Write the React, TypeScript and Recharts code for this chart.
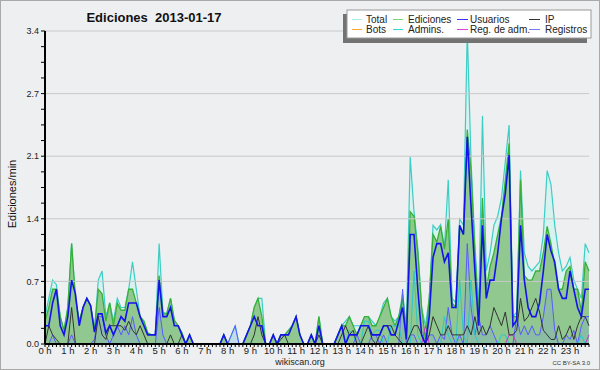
import React from "react";
import { ComposedChart, Area, Line, XAxis, YAxis, ReferenceLine } from "recharts";

// one value every 10 minutes (6 per hour), edits per minute
const hourLabels = [
  "0 h", "1 h", "2 h", "3 h", "4 h", "5 h", "6 h", "7 h", "8 h", "9 h", "10 h", "11 h",
  "12 h", "13 h", "14 h", "15 h", "16 h", "17 h", "18 h", "19 h", "20 h", "21 h", "22 h", "23 h",
];

const total = [
  0.3, 0.5, 0.7, 0.65, 0.3, 0.15, 0.4, 1.1, 0.5, 0.25, 0.4, 0.5,
  0.42, 0.15, 0.7, 0.8, 0.3, 0.45, 0.25, 0.5, 0.4, 0.4, 0.6, 0.9,
  0.6, 0.3, 0.25, 0.12, 0.1, 0.1, 1.1, 0.35, 0.33, 0.5, 0.26, 0.2,
  0.12, 0, 0.1, 0, 0, 0, 0, 0, 0, 0, 0, 0.1,
  0, 0.1, 0.2, 0, 0, 0.1, 0.2, 0.4, 0.5, 0.5, 0, 0,
  0.1, 0, 0.1, 0.1, 0.15, 0.2, 0.3, 0.1, 0, 0, 0.1, 0,
  0.3, 0, 0, 0, 0, 0.1, 0.2, 0.25, 0.3, 0.2, 0.2, 0.2,
  0.3, 0.3, 0.25, 0.2, 0.3, 0.45, 0.5, 0.3, 0.25, 0.3, 0.55, 0.2,
  2.05, 1.45, 1.05, 0.4, 0.2, 0.5, 1.3, 1.25, 1.31, 1.06, 1.8, 0.5,
  0.45, 1.37, 1.3, 3.43, 2.0, 1.1, 0.4, 2.5, 0.8, 1.0, 1.3, 1.4,
  1.6, 2.0, 2.4, 0.3, 0.35, 1.9, 1.0, 0.85, 0.8, 0.85, 0.9, 1.2,
  1.9, 1.75, 1.3, 1.0, 0.8, 0.85, 0.95, 0.7, 0.6, 0.5, 1.1, 1.0,
];

const ediciones = [
  0.25, 0.4, 0.6, 0.6, 0.3, 0.15, 0.4, 1.1, 0.5, 0.25, 0.4, 0.5,
  0.42, 0.15, 0.6, 0.55, 0.25, 0.45, 0.2, 0.45, 0.37, 0.37, 0.6, 0.6,
  0.45, 0.3, 0.25, 0.12, 0.1, 0.1, 0.75, 0.33, 0.33, 0.5, 0.26, 0.2,
  0.12, 0, 0.1, 0, 0, 0, 0, 0, 0, 0, 0, 0.1,
  0, 0, 0, 0, 0, 0.1, 0.2, 0.4, 0.5, 0.3, 0, 0,
  0.1, 0, 0.1, 0.1, 0.15, 0.2, 0.3, 0.1, 0, 0, 0.1, 0,
  0.3, 0, 0, 0, 0, 0.1, 0.2, 0.2, 0.3, 0.2, 0.1, 0.2,
  0.3, 0.3, 0.2, 0.2, 0.3, 0.4, 0.5, 0.3, 0.2, 0.3, 0.5, 0.1,
  1.45, 1.4, 1.0, 0.4, 0.05, 0.5, 1.2, 1.12, 1.29, 1.04, 1.37, 0.45,
  0.4, 1.29, 1.2, 2.35, 1.9, 1.0, 0.3, 1.6, 0.6, 0.85, 1.0, 1.2,
  1.4, 1.8, 2.2, 0.3, 0.3, 1.8, 0.75, 0.7, 0.7, 0.8, 0.8, 1.0,
  1.29, 1.1, 0.85, 0.6, 0.6, 0.8, 0.85, 0.6, 0.6, 0.35, 0.9, 0.8,
];

const usuarios = [
  0.2, 0.2, 0.45, 0.6, 0.2, 0.1, 0.3, 0.7, 0.55, 0.2, 0.4, 0.5,
  0.42, 0.13, 0.33, 0.33, 0.12, 0.2, 0.1, 0.2, 0.3, 0.25, 0.45, 0.45,
  0.45, 0.3, 0.2, 0.1, 0.1, 0.1, 0.7, 0.3, 0.3, 0.4, 0.2, 0.2,
  0.1, 0, 0.1, 0, 0, 0, 0, 0, 0, 0, 0, 0.1,
  0, 0, 0, 0, 0, 0.1, 0.2, 0.3, 0.2, 0.2, 0, 0,
  0.1, 0, 0.1, 0.1, 0.1, 0.2, 0.3, 0.1, 0, 0, 0.1, 0,
  0.2, 0, 0, 0, 0, 0.1, 0.2, 0, 0.1, 0.1, 0.1, 0.2,
  0.2, 0.2, 0.1, 0.1, 0.1, 0.2, 0.2, 0.1, 0.1, 0.25, 0.4, 0.05,
  1.2, 1.2, 0.6, 0.1, 0, 0.3, 0.95, 1.1, 1.1, 0.9, 1.0, 0.4,
  0.4, 1.3, 1.2, 2.27, 1.5, 0.8, 0.2, 1.3, 0.5, 0.7, 0.7, 1.0,
  1.38, 1.65, 2.07, 0.2, 0.26, 1.3, 0.7, 0.4, 0.3, 0.3, 0.45, 0.8,
  1.2, 1.02, 0.9, 0.6, 0.5, 0.5, 0.8, 0.6, 0.4, 0.3, 0.6, 0.6,
];

const ip = [
  0, 0.2, 0.1, 0.05, 0, 0, 0, 0.4, 0, 0, 0, 0,
  0, 0, 0.3, 0.1, 0.05, 0.2, 0.2, 0.2, 0.2, 0.15, 0.25, 0.15,
  0.1, 0.2, 0.1, 0, 0, 0, 0, 0, 0, 0.1, 0, 0,
  0.1, 0, 0, 0, 0, 0, 0, 0, 0, 0, 0, 0,
  0, 0, 0, 0, 0, 0, 0, 0.1, 0.3, 0.1, 0, 0,
  0, 0, 0.05, 0.1, 0, 0, 0, 0, 0, 0, 0, 0,
  0.1, 0, 0, 0, 0, 0, 0.1, 0.2, 0.1, 0.15, 0, 0,
  0.1, 0.2, 0.05, 0, 0.1, 0.2, 0.2, 0.2, 0.1, 0.05, 0, 0,
  0.1, 0.2, 0.2, 0.1, 0, 0.1, 0.3, 0.2, 0.1, 0.1, 0.2, 0.1,
  0.1, 0.1, 0.1, 0.2, 0.1, 0.3, 0.1, 0.2, 0.1, 0.2, 0.4, 0.3,
  0.2, 0.35, 0.1, 0.1, 0.15, 0.5, 0.25, 0.3, 0.4, 0.5, 0.35, 0.15,
  0.1, 0.05, 0.05, 0.2, 0.05, 0.1, 0.2, 0.05, 0.2, 0.3, 0.3, 0.2,
];

const registros = [
  0, 0, 0.1, 0, 0, 0, 0, 0.1, 0, 0, 0, 0,
  0, 0.05, 0.3, 0.3, 0.1, 0, 0.1, 0.2, 0.1, 0.2, 0.1, 0.3,
  0.1, 0, 0, 0, 0, 0, 0.4, 0.1, 0, 0, 0, 0,
  0, 0, 0, 0, 0, 0, 0, 0, 0, 0, 0, 0,
  0, 0.1, 0.2, 0, 0, 0, 0, 0, 0, 0, 0, 0,
  0, 0, 0, 0, 0, 0, 0, 0, 0, 0, 0, 0,
  0, 0, 0, 0, 0, 0, 0, 0, 0, 0, 0.1, 0,
  0, 0, 0.1, 0.1, 0, 0.1, 0, 0, 0, 0, 0.6, 0,
  0.1, 0.1, 0, 0, 0, 0.1, 0.1, 0, 0.1, 0.05, 0.4, 0.1,
  0, 0.1, 0, 1.1, 0.4, 0.1, 0.3, 0.1, 0.1, 0.2, 0.1, 0,
  0, 0, 0, 0, 0.3, 0.1, 0.2, 0.1, 0.2, 0.1, 0.1, 0.3,
  0.6, 0.6, 0.15, 0, 0, 0.1, 0.05, 0.15, 0, 0.2, 0.3, 0.3,
];

const admins = [
  0, 0, 0, 0, 0, 0, 0, 0, 0, 0, 0, 0,
  0, 0, 0, 0, 0, 0, 0, 0, 0, 0, 0, 0,
  0, 0, 0, 0, 0, 0, 0, 0, 0, 0, 0, 0,
  0, 0, 0, 0, 0, 0, 0, 0, 0, 0, 0, 0,
  0, 0, 0, 0, 0, 0, 0, 0, 0, 0, 0, 0,
  0, 0, 0, 0, 0, 0, 0, 0, 0, 0, 0, 0,
  0, 0, 0, 0, 0, 0, 0, 0, 0.15, 0.1, 0, 0,
  0.25, 0.25, 0.1, 0.15, 0.15, 0, 0, 0.2, 0.2, 0.2, 0, 0,
  0, 0.8, 0.1, 0, 0, 0, 0, 0, 0, 0.3, 0.1, 0,
  0, 0.7, 0.1, 0, 0.7, 0.1, 0, 0, 0, 0, 0, 0,
  0.1, 0.1, 0, 0, 0, 0, 0, 0, 0, 0, 0, 0,
  0, 0, 0, 0, 0, 0, 0, 0, 0, 0.1, 0, 0,
];

const regAdm = [
  0, 0, 0, 0, 0, 0, 0, 0, 0, 0, 0, 0,
  0, 0, 0, 0, 0, 0, 0, 0, 0, 0, 0, 0,
  0, 0, 0, 0, 0, 0, 0, 0, 0, 0, 0, 0,
  0, 0, 0, 0, 0, 0, 0, 0, 0, 0, 0, 0,
  0, 0, 0, 0, 0, 0, 0, 0, 0, 0, 0, 0,
  0, 0, 0, 0, 0, 0, 0, 0, 0, 0, 0, 0,
  0, 0, 0, 0, 0, 0, 0, 0, 0, 0, 0, 0,
  0, 0, 0, 0, 0, 0, 0, 0, 0, 0, 0, 0,
  0, 0, 0, 0, 0.2, 0, 0, 0, 0, 0, 0, 0,
  0, 0, 0, 0, 0, 0, 0, 0, 0, 0, 0, 0,
  0, 0, 0.1, 0.1, 0, 0, 0, 0, 0, 0, 0, 0,
  0, 0, 0, 0, 0, 0, 0, 0, 0, 0, 0, 0.1,
];

const legendNames = ["Total", "Ediciones", "Usuarios", "IP", "Bots", "Admins.", "Reg. de adm.", "Registros"];

// y axis: 5 labelled steps up to the day's maximum
const yMajor = [0, 0.686, 1.372, 2.058, 2.744, 3.43];

const colors: Record<string, string> = {
  Total: "#a6ecec",
  Ediciones: "#74d874",
  Usuarios: "#3535ff",
  IP: "#333333",
  Bots: "#ffa733",
  "Admins.": "#30d8d8",
  "Reg. de adm.": "#dd44dd",
  Registros: "#7a7aff",
};

const data = total.map((v, i) => ({
  t: i,
  total: v,
  ediciones: ediciones[i],
  usuarios: usuarios[i],
  ip: ip[i],
  registros: registros[i],
  admins: admins[i],
  regAdm: regAdm[i],
}));

const xTicks = data.map((d) => d.t);
const yTicks = yMajor.flatMap((v, k) =>
  k === 0 ? [v] : [1, 2, 3, 4].map((q) => yMajor[k - 1] + ((v - yMajor[k - 1]) * q) / 4)
);
const isMajor = (v: number) => yMajor.some((m) => Math.abs(m - v) < 1e-6);

const FONT = "'Liberation Sans', Arial, sans-serif";
const BG = "#eeeff1";

const legendCols = [
  { x1: 352, x2: 362, tx: 366 },
  { x1: 393, x2: 403, tx: 408 },
  { x1: 457, x2: 468, tx: 470 },
  { x1: 529, x2: 540, tx: 545 },
];

export default function App() {
  return (
    <div style={{ position: "relative", width: 600, height: 370, background: BG, fontFamily: FONT }}>
      <style>{`body{margin:0}`}</style>
      <ComposedChart
        width={600}
        height={370}
        data={data}
        margin={{ top: 31, right: 11, bottom: 12, left: 8 }}
      >
        {yMajor.slice(1).map((v) => (
          <ReferenceLine key={v} y={v} stroke="#c9c9c9" strokeWidth={1} />
        ))}
        <XAxis
          dataKey="t"
          type="number"
          domain={[0, 143]}
          ticks={xTicks}
          interval={0}
          height={14}
          tickSize={3}
          tickMargin={0}
          tickFormatter={(t: number) => (t % 6 === 0 ? hourLabels[t / 6] : "")}
          axisLine={{ stroke: "#000", strokeWidth: 2 }}
          tickLine={{ stroke: "#000" }}
          tick={{ fontSize: 9.5, fill: "#222", fontFamily: FONT }}
        />
        <YAxis
          domain={[0, 3.43]}
          ticks={yTicks}
          interval={0}
          width={37}
          tickSize={4}
          tickMargin={2}
          tickFormatter={(v: number) => (isMajor(v) ? v.toFixed(1) : "")}
          axisLine={{ stroke: "#000", strokeWidth: 2 }}
          tickLine={{ stroke: "#000" }}
          tick={{ fontSize: 9, fill: "#222", fontFamily: FONT }}
        />
        <Area type="linear" dataKey="total" stroke="#3ccdc5" strokeWidth={1.2} fill="#d7f2ef" fillOpacity={1} isAnimationActive={false} />
        <Area type="linear" dataKey="ediciones" stroke="#38b038" strokeWidth={1.3} fill="#90c890" fillOpacity={1} isAnimationActive={false} />
        <Area type="linear" dataKey="registros" stroke="#5a5aff" strokeWidth={1} fill="#7c9ce0" fillOpacity={0.25} isAnimationActive={false} />
        <Line type="linear" dataKey="admins" stroke="#2cc8c8" strokeWidth={1} dot={false} isAnimationActive={false} />
        <Line type="linear" dataKey="regAdm" stroke="#cc33cc" strokeWidth={1} dot={false} isAnimationActive={false} />
        <Line type="linear" dataKey="ip" stroke="#333" strokeWidth={1} dot={false} isAnimationActive={false} />
        <Line type="linear" dataKey="usuarios" stroke="#1414e8" strokeWidth={1.6} dot={false} isAnimationActive={false} />
      </ComposedChart>

      <svg width={600} height={370} style={{ position: "absolute", left: 0, top: 0, pointerEvents: "none" }}>
        <rect x={0.5} y={0.5} width={599} height={369} fill="none" stroke="#a9a9a9" />
        <text x={154} y={22} textAnchor="middle" fontSize={13} fontWeight="bold" fill="#111" fontFamily={FONT}>
          Ediciones{"\u00a0\u00a0"}2013-01-17
        </text>
        <text x={16} y={194} transform="rotate(-90 16 194)" textAnchor="middle" fontSize={11} fill="#111" fontFamily={FONT}>
          Ediciones/min
        </text>
        <text x={300} y={365} textAnchor="middle" fontSize={9} fill="#222" fontFamily={FONT}>
          wikiscan.org
        </text>
        <text x={590} y={365} textAnchor="end" fontSize={6} fill="#333" fontFamily={FONT}>
          CC BY-SA 3.0
        </text>

        <rect x={343} y={14} width={244} height={29} fill="#737373" />
        <rect x={347} y={10} width={244} height={28} fill="#fff" stroke="#9a9a9a" />
        {legendNames.map((name, k) => {
          const col = legendCols[k % 4];
          const row = Math.floor(k / 4);
          const ly = 19.5 + row * 10;
          return (
            <g key={name}>
              <line x1={col.x1} x2={col.x2} y1={ly} y2={ly} stroke={colors[name]} strokeWidth={1} />
              <text x={col.tx} y={ly + 3.8} fontSize={10} fill="#222" fontFamily={FONT}>
                {name}
              </text>
            </g>
          );
        })}
      </svg>
    </div>
  );
}
